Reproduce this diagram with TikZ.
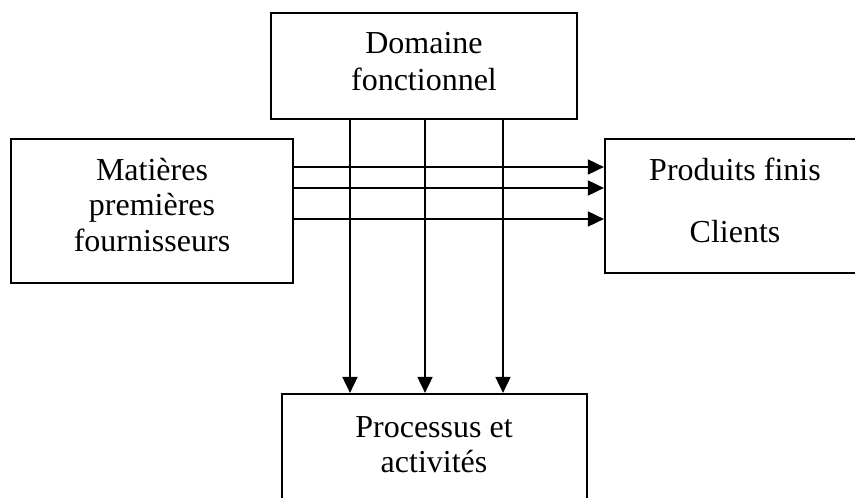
\documentclass[tikz,border=0pt]{standalone}
\usepackage{fontspec}
\setmainfont{Liberation Serif}
\usetikzlibrary{arrows.meta}
\begin{document}
\begin{tikzpicture}[x=1pt,y=-1pt,
  box/.style={draw,line width=2.2pt,inner sep=0pt},
  txt/.style={anchor=base,inner sep=0pt,font=\fontsize{32}{38}\selectfont},
  arr/.style={line width=1.8pt,-{Triangle[length=16pt,width=15pt]}}]
\useasboundingbox (0,0) rectangle (855,498);
\clip (0,0) rectangle (855,498);
\fill[white] (0,0) rectangle (855,498);
% boxes
\node[box,minimum width=306pt,minimum height=106pt] (top) at (424,66) {};
\node[box,minimum width=282pt,minimum height=144pt] (left) at (152,211) {};
\node[box,minimum width=280pt,minimum height=134pt] (right) at (745,206) {};
\node[box,minimum width=305pt,minimum height=140pt] (bot) at (434.5,464) {};
% texts
\node[txt] (t1) at (424,53) {Domaine};
\node[txt] (t2) at (424,90) {fonctionnel};
\node[txt] (l1) at (152,180) {Matières};
\node[txt] (l2) at (152,215.5) {premières};
\node[txt] (l3) at (152,251) {fournisseurs};
\node[txt] (r1) at (735,180) {Produits finis};
\node[txt] (r2) at (735,242) {Clients};
\node[txt] (b1) at (434,437) {Processus et};
\node[txt] (b2) at (434,472) {activités};
% vertical arrows
\foreach \dx in {-74,1,79}
  \draw[arr] ([xshift=\dx pt]top.south) -- ([xshift=\dx pt]top.south |- bot.north);
% horizontal arrows
\foreach \dy in {44,23,-8}
  \draw[arr] ([yshift=\dy pt]left.east) -- ([yshift=\dy pt]left.east -| right.west);
\end{tikzpicture}
\end{document}
